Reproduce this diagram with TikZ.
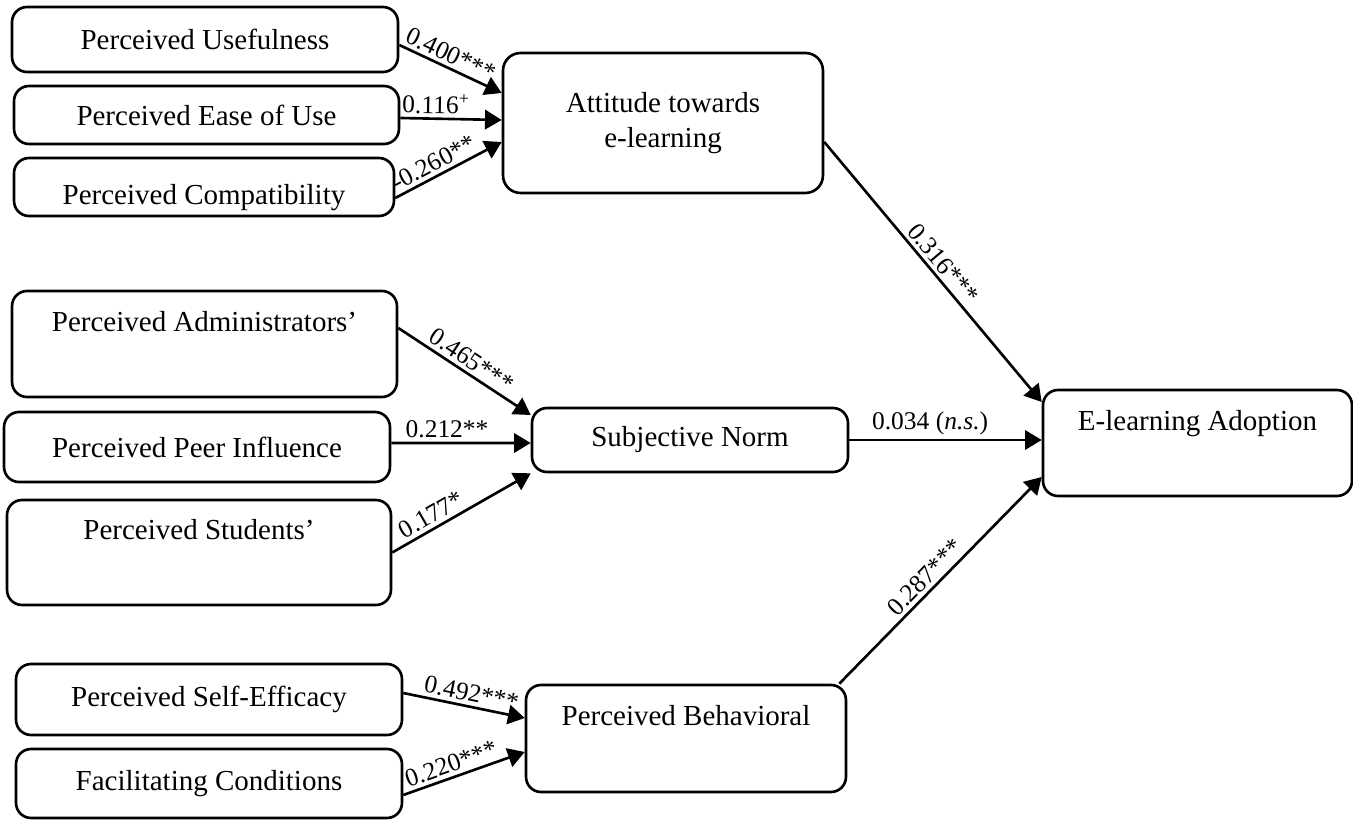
\documentclass[tikz,border=0pt]{standalone}
\usepackage{fontspec}
\setmainfont{Liberation Serif}
\usepackage{tikz}
\usetikzlibrary{arrows.meta}
\tikzset{>={Triangle[length=9.5pt,width=11pt]}}
\tikzset{factor/.style={draw, line width=1.5pt, rounded corners=0.3cm, inner sep=2pt, align=center, font=\fontsize{16.5}{20}\selectfont},
  coef/.style={above, sloped, inner sep=2pt, font=\fontsize{14.5}{17}\selectfont},
  path/.style={->, line width=1.5pt}}

\begin{document}
\begin{tikzpicture}[x=0.02cm, y=-0.02cm]
\useasboundingbox (0,0) rectangle (1353,820);
% attitude block
\node[factor, minimum width=7.72cm, minimum height=1.30cm] (pu) at (205,39.5) {Perceived Usefulness};
\node[factor, minimum width=7.70cm, minimum height=1.16cm] (peou) at (206.5,115) {Perceived Ease of Use};
\node[factor, minimum width=7.60cm, minimum height=1.16cm, text height=0.8cm, text depth=0.1cm] (pc) at (204,187) {Perceived Compatibility};
\node[factor, minimum width=6.40cm, minimum height=2.80cm, rounded corners=0.35cm] (att) at (663,123) {Attitude towards\\e-learning};
% norm block
\node[factor, minimum width=7.70cm, minimum height=2.12cm] (adm) at (204.5,344) {Perceived Administrators'\\\strut};
\node[factor, minimum width=7.72cm, minimum height=1.40cm] (ppi) at (197,447) {Perceived Peer Influence};
\node[factor, minimum width=7.68cm, minimum height=2.10cm] (pst) at (199,552.5) {Perceived Students'\\\strut};
\node[factor, minimum width=6.32cm, minimum height=1.28cm] (sn) at (690,440) {Subjective Norm};
% control block
\node[factor, minimum width=7.72cm, minimum height=1.42cm] (pse) at (209,699.5) {Perceived Self-Efficacy};
\node[factor, minimum width=7.72cm, minimum height=1.38cm] (fc) at (209,783.5) {Facilitating Conditions};
\node[factor, minimum width=6.40cm, minimum height=2.14cm] (pbc) at (686,738.5) {Perceived Behavioral\\\strut};
\node[factor, minimum width=6.18cm, minimum height=2.12cm] (ela) at (1197.5,443) {E-learning Adoption\\\strut};

\draw[path] ([yshift=-0.11cm]pu.east) -- ([yshift=0.6cm]att.west) node[coef, pos=0.45] {0.400***};
\draw[path] ([yshift=-0.06cm]peou.east) -- ([yshift=0.06cm]att.west) node[coef, pos=0.35] {0.116\textsuperscript{+}};
\draw[path] ([yshift=-0.22cm]pc.east) -- ([yshift=-0.38cm]att.west) node[coef, pos=0.42] {-0.260**};

\draw[path] ([yshift=0.32cm]adm.east) -- ([yshift=0.5cm]sn.west) node[coef, pos=0.5] {0.465***};
\draw[path] ([yshift=0.08cm]ppi.east) -- ([yshift=-0.06cm]sn.west) node[coef, pos=0.4] {0.212**};
\draw[path] (pst.east) -- (sn.south west) node[coef, pos=0.33] {0.177*};

\draw[path] ([yshift=0.13cm]pse.east) -- ([yshift=0.41cm]pbc.west) node[coef, pos=0.54] {0.492***};
\draw[path] ([yshift=-0.23cm]fc.east) -- ([yshift=-0.27cm]pbc.west) node[coef, pos=0.43] {0.220***};

\draw[path] ([yshift=-0.38cm]att.east) -- ([yshift=0.82cm]ela.west) node[coef, pos=0.5] {0.316***};
\draw[path] (sn.east) -- (sn.east -| ela.west) node[coef, pos=0.42] {0.034 (\textit{n.s.})};
\draw[path] ([xshift=-0.16cm]pbc.north east) -- ([yshift=-0.68cm]ela.west) node[coef, pos=0.47] {0.287***};
\end{tikzpicture}
\end{document}
